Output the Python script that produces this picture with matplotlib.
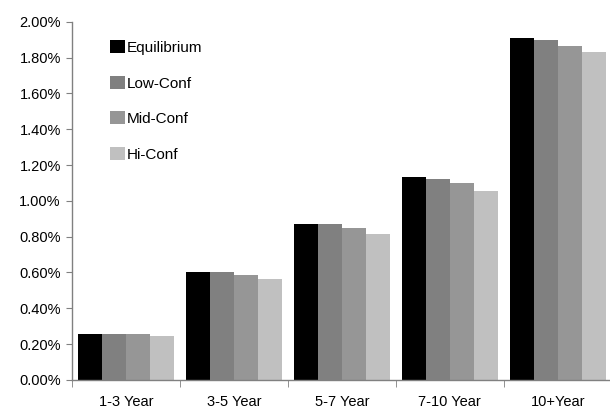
import numpy as np
import matplotlib
matplotlib.use('Agg')
import matplotlib.pyplot as plt
from matplotlib.ticker import FuncFormatter, FixedLocator

plt.rcParams['font.family'] = ['Liberation Sans', 'DejaVu Sans']

# Data (percent)
categories = ['1-3 Year', '3-5 Year', '5-7 Year', '7-10 Year', '10+Year']
series_names = ['Equilibrium', 'Low-Conf', 'Mid-Conf', 'Hi-Conf']
equilibrium = [0.256, 0.605, 0.870, 1.133, 1.910]
low_conf = [0.256, 0.605, 0.870, 1.122, 1.898]
mid_conf = [0.256, 0.585, 0.849, 1.100, 1.866]
hi_conf = [0.245, 0.562, 0.815, 1.056, 1.832]
colors = ['#000000', '#808080', '#969696', '#c0c0c0']

fig = plt.figure(figsize=(6.10, 4.12), dpi=100)
ax = fig.add_axes([0.118, 0.078, 0.885, 0.869])

x = np.arange(len(categories))
bar_w = 0.222
all_series = [equilibrium, low_conf, mid_conf, hi_conf]
for i, (vals, name, c) in enumerate(zip(all_series, series_names, colors)):
    offs = (i - 1.5) * bar_w
    ax.bar(x + offs, vals, width=bar_w, color=c, label=name, linewidth=0)

ax.set_xlim(-0.5, len(categories) - 0.5)
ax.set_ylim(0, 2.0)
ax.set_yticks(np.arange(0, 2.01, 0.2))
ax.yaxis.set_major_formatter(FuncFormatter(lambda v, p: f'{v:.2f}%'))

# category labels at centres, tick marks at boundaries
ax.set_xticks(x)
ax.set_xticklabels(categories)
ax.tick_params(axis='x', length=0, pad=11, labelsize=10.5)
ax.xaxis.set_minor_locator(FixedLocator(np.arange(-0.5, len(categories), 1.0)))
ax.tick_params(axis='x', which='minor', length=5, direction='out', color='#808080')
ax.tick_params(axis='y', length=4, direction='out', color='#808080', labelsize=10.5, pad=4)

for s in ['top', 'right']:
    ax.spines[s].set_visible(False)
for s in ['left', 'bottom']:
    ax.spines[s].set_color('#808080')
    ax.spines[s].set_linewidth(1.0)

leg = ax.legend(loc='upper left', bbox_to_anchor=(0.06, 0.965), frameon=False,
                fontsize=11, handlelength=0.92, handleheight=0.92,
                handletextpad=0.12, labelspacing=1.36, borderaxespad=0)

fig.savefig('out.png', dpi=100)
